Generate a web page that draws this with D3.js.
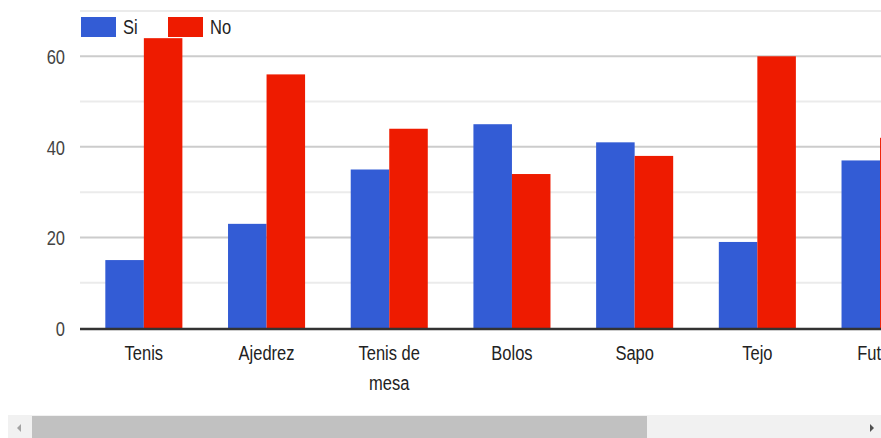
<!DOCTYPE html>
<html><head><meta charset="utf-8">
<script src="https://cdn.jsdelivr.net/npm/d3@7"></script>
<style>
html,body{margin:0;padding:0;background:#fff;overflow:hidden;}
svg{display:block;font-family:"Liberation Sans",Arial,sans-serif;}
</style></head>
<body>
<svg id="chart" width="881" height="438"></svg>
<script>
const categories = ["Tenis","Ajedrez","Tenis de mesa","Bolos","Sapo","Tejo","Futbol"];
const si = [15,23,35,45,41,19,37];
const no = [64,56,44,34,38,60,42];
const seriesNames = ["Si","No"];
const majorTicks = [0,20,40,60];
const minorTicks = [10,30,50,70];
const colors = ["#335cd5","#ee1b00"];

const svg = d3.select("#chart");
const W = 881, H = 438;
const left = 80, baseY = 328, topY = 11;
const step = 122.7;
const FS = 16.5, SY = 1.25;
const x = d3.scaleBand().domain(categories)
  .range([left + 2.5, left + 2.5 + step*categories.length]).paddingInner(0.372).paddingOuter(0.186);
const y = d3.scaleLinear().domain([0,70]).range([baseY, topY]);
const xs = d3.scaleBand().domain(seriesNames).range([0, x.bandwidth()]);

function addText(g, tx, ty, str, anchor, fill){
  return g.append("text").attr("transform",`translate(${tx},${ty}) scale(1,${SY})`)
    .attr("text-anchor",anchor).attr("fill",fill).attr("font-size",FS)
    .attr("font-family","Liberation Sans, Arial, sans-serif").text(str);
}

const plot = svg.append("g");
plot.selectAll("line.minor").data(minorTicks).join("line")
  .attr("x1", left).attr("x2", W).attr("y1", d=>y(d)).attr("y2", d=>y(d))
  .attr("stroke","#ebebeb").attr("stroke-width",2);
plot.selectAll("line.major").data(majorTicks.filter(d=>d>0)).join("line")
  .attr("x1", left).attr("x2", W).attr("y1", d=>y(d)).attr("y2", d=>y(d))
  .attr("stroke","#cccccc").attr("stroke-width",2);

// y axis labels
const yAxis = d3.axisLeft(y).tickValues(majorTicks).tickSize(0).tickPadding(0);
const ya = svg.append("g").attr("transform",`translate(65,0)`).call(yAxis);
ya.select(".domain").remove();
ya.selectAll("text").remove();
ya.selectAll(".tick").each(function(d){
  addText(d3.select(this), 0, 7.5, String(d), "end", "#444");
});

// bars
const data = categories.map((c,i)=>({c, vals:[{s:"Si",v:si[i]},{s:"No",v:no[i]}]}));
const groups = svg.append("g").selectAll("g").data(data).join("g")
  .attr("transform", d=>`translate(${x(d.c)},0)`);
groups.selectAll("rect").data(d=>d.vals).join("rect")
  .attr("x", d=>xs(d.s)).attr("width", xs.bandwidth())
  .attr("y", d=>y(d.v)).attr("height", d=>y(0)-y(d.v))
  .attr("fill", (d,i)=>colors[i]);

// baseline
svg.append("line").attr("x1",left).attr("x2",W).attr("y1",baseY+1).attr("y2",baseY+1)
  .attr("stroke","#333").attr("stroke-width",2.5);

// x labels
const xAxis = d3.axisBottom(x).tickSize(0).tickPadding(0);
const xa = svg.append("g").attr("transform",`translate(0,${baseY})`).call(xAxis);
xa.select(".domain").remove();
xa.selectAll("text").remove();
xa.selectAll(".tick").each(function(d){
  const g = d3.select(this);
  const words = d.split(" ");
  const lines = d.length > 10 ? [words.slice(0,2).join(" "), words.slice(2).join(" ")] : [d];
  lines.forEach((ln,k)=>{ addText(g, 0, 32 + k*29.5, ln, "middle", "#222"); });
});

// legend
const leg = svg.append("g");
seriesNames.forEach((s,i)=>{
  const lx = [81,168][i];
  leg.append("rect").attr("x",lx).attr("y",17).attr("width",35).attr("height",20).attr("fill",colors[i]);
  addText(leg, lx+42, 34, s, "start", "#222");
});

// scrollbar
svg.append("rect").attr("x",8).attr("y",415).attr("width",873).attr("height",23).attr("fill","#f1f1f1");
svg.append("rect").attr("x",32).attr("y",416).attr("width",615).attr("height",22).attr("fill","#c1c1c1");
svg.append("path").attr("d","M21,424 L17,428 L21,432 Z").attr("fill","#a3a3a3");
svg.append("path").attr("d","M870,424 L874,428 L870,432 Z").attr("fill","#505050");
</script>
</body></html>
